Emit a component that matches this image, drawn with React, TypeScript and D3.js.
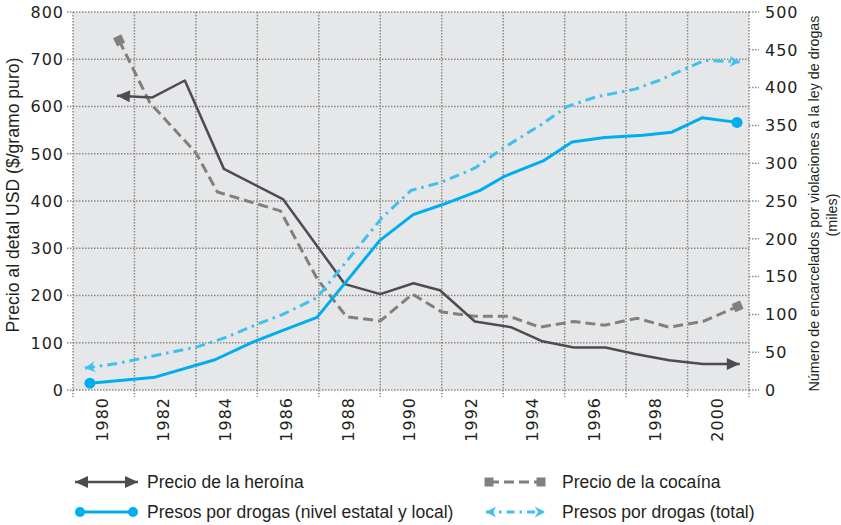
import React, { useEffect, useRef } from 'react';
import * as d3 from 'd3';

// Precio de la heroína ($/gramo puro, eje izquierdo)
const heroinYears = [1980.43, 1981.57, 1982.64, 1983.91, 1985.83, 1987.85, 1989.0, 1990.08, 1990.94, 1992.08, 1993.25, 1994.28, 1995.3, 1996.33, 1997.3, 1998.4, 1999.5, 2000.7];
const heroinPrice = [623, 619, 655, 468, 404, 224, 203, 226, 211, 145, 133, 103, 90, 90, 76, 63, 55, 55];

// Precio de la cocaína (eje izquierdo)
const cocaineYears = [1980.5, 1981.5, 1983.0, 1983.7, 1985.75, 1986.95, 1987.9, 1989.0, 1990.05, 1991.0, 1992.07, 1993.2, 1994.2, 1995.3, 1996.3, 1997.35, 1998.4, 1999.5, 2000.63];
const cocainePrice = [740, 608, 502, 419, 379, 235, 155, 146, 203, 165, 156, 156, 133, 145, 137, 152, 133, 145, 177];

// Presos por drogas, nivel estatal y local (miles, eje derecho)
const stateYears = [1979.55, 1981.67, 1983.62, 1984.83, 1985.83, 1986.94, 1988.99, 1990.07, 1991.01, 1992.25, 1993.06, 1994.3, 1995.24, 1996.31, 1997.55, 1998.49, 1999.47, 2000.61];
const statePrisoners = [9, 17, 40, 63, 79, 96, 198, 232, 245, 264, 283, 303, 328, 334, 337, 341, 360, 354];

// Presos por drogas, total (miles, eje derecho)
const totalYears = [1979.39, 1980.43, 1981.83, 1983.04, 1984.01, 1984.99, 1985.83, 1986.94, 1989.06, 1990.0, 1991.01, 1992.1, 1993.0, 1994.2, 1995.08, 1996.05, 1997.3, 1998.1, 1998.98, 1999.57, 2000.15, 2000.7];
const totalPrisoners = [29, 35, 47, 57, 70, 87, 100, 122, 228, 264, 275, 294, 320, 350, 375, 388, 398, 410, 426, 436, 435, 434];

const leftTicks = [0, 100, 200, 300, 400, 500, 600, 700, 800];
const rightTicks = [0, 50, 100, 150, 200, 250, 300, 350, 400, 450, 500];
const yearLabels = [1980, 1982, 1984, 1986, 1988, 1990, 1992, 1994, 1996, 1998, 2000];
const gridYears = [1979, 1981, 1983, 1985, 1987, 1989, 1991, 1993, 1995, 1997, 1999, 2001];

const DARK = '#4d4d4f';
const GREY = '#808080';
const BLUE = '#00aeef';
const LIGHT_BLUE = '#3fc1ef';
const TEXT = '#231f20';
const GRID = '#8a8a8a';

const App = () => {
  const svgRef = useRef<SVGSVGElement>(null);

  useEffect(() => {
    const svg = d3.select(svgRef.current);
    svg.selectAll('*').remove();

    const plot = { left: 73, right: 749, top: 12, bottom: 390 };

    const x = d3.scaleLinear().domain([1979, 2001]).range([plot.left, plot.right]);
    const yLeft = d3.scaleLinear().domain([0, 800]).range([plot.bottom, plot.top]);
    const yRight = d3.scaleLinear().domain([0, 500]).range([plot.bottom, plot.top]);

    // markers
    const defs = svg.append('defs');
    const addMarker = (id: string, path: string, color: string, box: string, w: number) => {
      defs.append('marker')
        .attr('id', id)
        .attr('viewBox', box)
        .attr('refX', 0)
        .attr('refY', 0)
        .attr('markerWidth', w)
        .attr('markerHeight', w)
        .attr('markerUnits', 'userSpaceOnUse')
        .attr('orient', 'auto-start-reverse')
        .append('path')
        .attr('d', path)
        .attr('fill', color);
    };
    addMarker('arrowDark', 'M0,0 L-13,-6 L-13,6 Z', DARK, '-14 -7 15 14', 15);
    addMarker('arrowBlue', 'M0,0 L-11,-6 L-7.5,0 L-11,6 Z', LIGHT_BLUE, '-12 -7 13 14', 13);
    addMarker('square', 'M-4.5,-4.5 h9 v9 h-9 Z', GREY, '-5 -5 10 10', 10);

    // background
    svg.append('rect')
      .attr('x', plot.left)
      .attr('y', plot.top)
      .attr('width', plot.right - plot.left)
      .attr('height', plot.bottom - plot.top)
      .attr('fill', '#e6e7e8');

    // gridlines
    const grid = svg.append('g')
      .attr('stroke', GRID)
      .attr('stroke-width', 1.5)
      .attr('stroke-dasharray', '1.5 1.5');

    grid.selectAll('.hgrid')
      .data(leftTicks)
      .enter()
      .append('line')
      .attr('x1', plot.left - 6)
      .attr('x2', plot.right)
      .attr('y1', d => yLeft(d))
      .attr('y2', d => yLeft(d));

    grid.selectAll('.vgrid')
      .data(gridYears)
      .enter()
      .append('line')
      .attr('x1', d => x(d))
      .attr('x2', d => x(d))
      .attr('y1', plot.top)
      .attr('y2', plot.bottom + 7);

    grid.selectAll('.rtick')
      .data(rightTicks)
      .enter()
      .append('line')
      .attr('x1', plot.right)
      .attr('x2', plot.right + 10)
      .attr('y1', d => yRight(d))
      .attr('y2', d => yRight(d));

    // tick labels
    const tickFont = (sel: any) => sel
      .attr('font-family', '"DejaVu Sans", sans-serif')
      .attr('font-size', 16)
      .attr('letter-spacing', 1)
      .attr('fill', TEXT);

    svg.append('g').call(tickFont)
      .selectAll('text')
      .data(leftTicks)
      .enter()
      .append('text')
      .attr('x', 64)
      .attr('y', d => yLeft(d))
      .attr('dy', '0.36em')
      .attr('text-anchor', 'end')
      .text(d => d);

    svg.append('g').call(tickFont)
      .selectAll('text')
      .data(rightTicks)
      .enter()
      .append('text')
      .attr('x', 765)
      .attr('y', d => yRight(d))
      .attr('dy', '0.36em')
      .text(d => d);

    svg.append('g').call(tickFont)
      .selectAll('text')
      .data(yearLabels)
      .enter()
      .append('text')
      .attr('transform', d => `translate(${x(d) - 1.5},397) rotate(-90)`)
      .attr('dy', '0.36em')
      .attr('text-anchor', 'end')
      .text(d => d);

    // axis titles
    svg.append('text')
      .attr('transform', 'translate(18.5,195) rotate(-90)')
      .attr('text-anchor', 'middle')
      .attr('font-family', '"Liberation Sans", Arial, sans-serif')
      .attr('font-size', 17.6)
      .attr('fill', TEXT)
      .text('Precio al detal USD ($/gramo puro)');

    svg.append('text')
      .attr('transform', 'translate(819,203.5) rotate(-90)')
      .attr('text-anchor', 'middle')
      .attr('font-family', '"Liberation Sans", Arial, sans-serif')
      .attr('font-size', 14.3)
      .attr('fill', TEXT)
      .text('Número de encarcelados por violaciones a la ley de drogas');

    svg.append('text')
      .attr('transform', 'translate(837,215) rotate(-90)')
      .attr('text-anchor', 'middle')
      .attr('font-family', '"Liberation Sans", Arial, sans-serif')
      .attr('font-size', 14.3)
      .attr('fill', TEXT)
      .text('(miles)');

    // series
    const lineLeft = d3.line<[number, number]>().x(d => x(d[0])).y(d => yLeft(d[1]));
    const lineRight = d3.line<[number, number]>().x(d => x(d[0])).y(d => yRight(d[1]));
    const zip = (a: number[], b: number[]) => a.map((v, i) => [v, b[i]] as [number, number]);

    svg.append('path')
      .attr('d', lineLeft(zip(cocaineYears, cocainePrice)))
      .attr('fill', 'none')
      .attr('stroke', GREY)
      .attr('stroke-width', 3)
      .attr('stroke-dasharray', '10 5')
      .attr('marker-start', 'url(#square)')
      .attr('marker-end', 'url(#square)');

    svg.append('path')
      .attr('d', lineLeft(zip(heroinYears, heroinPrice)))
      .attr('fill', 'none')
      .attr('stroke', DARK)
      .attr('stroke-width', 2.5)
      .attr('stroke-linejoin', 'round')
      .attr('marker-start', 'url(#arrowDark)')
      .attr('marker-end', 'url(#arrowDark)');

    svg.append('path')
      .attr('d', lineRight(zip(totalYears, totalPrisoners)))
      .attr('fill', 'none')
      .attr('stroke', LIGHT_BLUE)
      .attr('stroke-width', 3)
      .attr('stroke-dasharray', '10 5 2.5 5')
      .attr('marker-start', 'url(#arrowBlue)')
      .attr('marker-end', 'url(#arrowBlue)');

    const statePts = zip(stateYears, statePrisoners);
    svg.append('path')
      .attr('d', lineRight(statePts))
      .attr('fill', 'none')
      .attr('stroke', BLUE)
      .attr('stroke-width', 3)
      .attr('stroke-linejoin', 'round');

    svg.selectAll('.stateDot')
      .data([statePts[0], statePts[statePts.length - 1]])
      .enter()
      .append('circle')
      .attr('cx', d => x(d[0]))
      .attr('cy', d => yRight(d[1]))
      .attr('r', 5.5)
      .attr('fill', BLUE);

    // legend
    const legend = svg.append('g');
    const row1 = 482;
    const row2 = 512;

    legend.append('line')
      .attr('x1', 75).attr('x2', 138).attr('y1', row1).attr('y2', row1)
      .attr('stroke', DARK).attr('stroke-width', 2.5)
      .attr('marker-start', 'url(#arrowDark)')
      .attr('marker-end', 'url(#arrowDark)');

    legend.append('line')
      .attr('x1', 489).attr('x2', 541).attr('y1', row1).attr('y2', row1)
      .attr('stroke', GREY).attr('stroke-width', 3)
      .attr('stroke-dasharray', '10 5')
      .attr('marker-start', 'url(#square)')
      .attr('marker-end', 'url(#square)');

    legend.append('line')
      .attr('x1', 80).attr('x2', 133).attr('y1', row2).attr('y2', row2)
      .attr('stroke', BLUE).attr('stroke-width', 3);
    legend.selectAll('.legDot')
      .data([80, 133])
      .enter()
      .append('circle')
      .attr('cx', d => d)
      .attr('cy', row2)
      .attr('r', 5)
      .attr('fill', BLUE);

    legend.append('line')
      .attr('x1', 486).attr('x2', 545).attr('y1', row2).attr('y2', row2)
      .attr('stroke', LIGHT_BLUE).attr('stroke-width', 3)
      .attr('stroke-dasharray', '8 5 2.5 5')
      .attr('marker-start', 'url(#arrowBlue)')
      .attr('marker-end', 'url(#arrowBlue)');

    const legendItems = [
      { label: 'Precio de la heroína', x: 147, y: row1 },
      { label: 'Precio de la cocaína', x: 562, y: row1 },
      { label: 'Presos por drogas (nivel estatal y local)', x: 147, y: row2 },
      { label: 'Presos por drogas (total)', x: 562, y: row2 },
    ];
    legend.selectAll('.legText')
      .data(legendItems)
      .enter()
      .append('text')
      .attr('x', d => d.x)
      .attr('y', d => d.y)
      .attr('dy', '0.35em')
      .attr('font-family', '"Liberation Sans", Arial, sans-serif')
      .attr('font-size', 17.5)
      .attr('fill', TEXT)
      .text(d => d.label);
  }, []);

  return (
    <svg
      ref={svgRef}
      width={841}
      height={525}
      style={{ position: 'absolute', left: 0, top: 0, display: 'block', background: '#fff' }}
    />
  );
};

export default App;
